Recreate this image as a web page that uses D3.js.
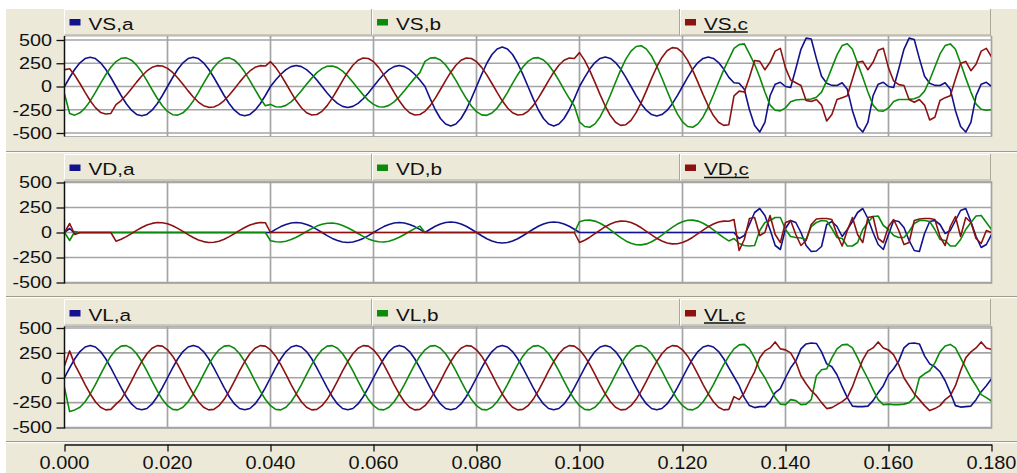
<!DOCTYPE html>
<html><head><meta charset="utf-8">
<script src="https://cdn.jsdelivr.net/npm/d3@7"></script>
<style>
html,body{margin:0;padding:0;background:#fff;}
svg{display:block;}
text{font-family:"Liberation Sans",Arial,sans-serif;fill:#111;}
</style>
</head><body>
<svg id="c" width="1017" height="473"></svg>
<script>
// ---------------- data ----------------
const timeStep = 0.001;           // sample spacing (s)
const xTickValues = [0,0.02,0.04,0.06,0.08,0.10,0.12,0.14,0.16,0.18];
const yTickValues = [500,250,0,-250,-500];
const yTickLabels = ["500","250","0","-250","-500"];
const namesVS = ["VS,a","VS,b","VS,c"];
const namesVD = ["VD,a","VD,b","VD,c"];
const namesVL = ["VL,a","VL,b","VL,c"];

const VS_a = [
0,97,185,255,300,315,300,255,185,97,0,-97,-185,-255,-300,-315,-300,-255,-185,-97,
0,97,185,255,300,315,300,255,185,97,0,-97,-185,-255,-300,-315,-300,-255,-185,-97,
0,70,132,182,214,225,214,182,132,70,0,-70,-132,-182,-214,-225,-214,-182,-132,-70,
0,70,132,182,214,225,214,182,132,70,0,-131,-250,-344,-404,-425,-404,-344,-250,-131,
0,131,250,344,404,425,404,344,250,131,0,-131,-250,-344,-404,-425,-404,-344,-250,-131,
0,98,187,257,302,318,302,257,187,98,0,-98,-187,-257,-302,-318,-302,-257,-187,-98,
0,98,187,257,302,318,302,257,187,98,40,35,-30,-250,-420,-490,-385,-100,25,45,
0,-10,190,400,520,510,300,110,35,12,10,40,-30,-260,-430,-490,-385,-100,25,45,
0,-10,190,400,520,505,300,110,35,12,10,40,-30,-260,-430,-490,-385,-100,25,45,
0];
const VS_b = [
-80,-290,-308,-283,-230,-155,-64,33,126,207,268,303,308,283,230,155,64,-33,-126,-207,
-268,-303,-308,-283,-230,-155,-64,33,126,207,268,303,308,283,230,155,64,-33,-126,-207,
-192,-217,-221,-203,-165,-111,-46,23,90,149,192,217,221,203,165,111,46,-23,-90,-149,
-192,-217,-221,-203,-165,-111,-46,23,90,149,270,305,310,285,232,156,65,-33,-127,-209,
-270,-305,-310,-285,-232,-156,-65,33,127,209,270,305,310,285,232,156,65,-33,-127,-209,
-381,-430,-438,-402,-327,-220,-92,46,179,294,381,430,438,402,327,220,92,-46,-179,-294,
-381,-430,-438,-402,-327,-220,-92,46,179,294,410,450,458,350,240,100,-60,-200,-255,-262,
-230,-165,-145,-140,-140,-135,-115,-60,60,200,340,440,460,400,250,100,-60,-200,-260,-265,
-230,-160,-140,-140,-138,-132,-110,-50,70,210,350,440,458,400,250,90,-60,-190,-245,-255,
-250];
const VS_c = [
180,190,120,32,-63,-153,-227,-279,-295,-290,-195,-151,-92,-24,47,113,167,206,224,220,
195,151,92,24,-47,-113,-167,-206,-224,-220,-195,-151,-92,-24,47,113,167,206,224,220,
267,206,125,32,-64,-154,-229,-282,-306,-301,-267,-206,-125,-32,64,154,229,282,306,301,
267,206,125,32,-64,-154,-229,-282,-306,-301,-267,-206,-125,-32,64,154,229,282,306,301,
267,206,125,32,-64,-154,-229,-282,-306,-301,-267,-206,-125,-32,64,154,229,282,306,301,
364,281,171,44,-87,-210,-312,-384,-418,-411,-364,-281,-171,-44,87,210,312,384,418,411,
364,281,171,44,-87,-210,-312,-384,-418,-411,-100,-50,-60,100,280,270,180,260,380,410,
200,70,40,10,-150,-160,-140,-200,-370,-300,-140,-120,-100,80,260,270,180,260,390,410,
200,60,20,10,-140,-170,-140,-200,-360,-330,-150,-120,-100,80,250,270,170,240,380,410,
320];

const VD_a = [
0,40,-10,0,0,0,0,0,0,0,0,0,0,0,0,0,0,0,0,0,
0,0,0,0,0,0,0,0,0,0,0,0,0,0,0,0,0,0,0,0,
0,31,59,81,95,100,95,81,59,31,0,-31,-59,-81,-95,-100,-95,-81,-59,-31,
0,31,59,81,95,100,95,81,59,31,0,32,62,85,100,105,100,85,62,32,
0,-32,-62,-85,-100,-105,-100,-85,-62,-32,0,32,62,85,100,105,100,85,62,32,
0,0,0,0,0,0,0,0,0,0,0,0,0,0,0,0,0,0,0,0,
0,0,0,0,0,0,0,0,0,0,0,-60,-30,80,200,240,170,30,-130,-170,
40,120,100,0,-130,-190,-185,-140,80,110,60,-40,30,110,200,240,140,0,-120,-170,
-20,120,110,50,-80,-180,-190,-10,110,120,80,-10,20,120,220,240,110,-40,-150,-120,
-20];
const VD_b = [
0,-80,10,0,0,0,0,0,0,0,0,0,0,0,0,0,0,0,0,0,
0,0,0,0,0,0,0,0,0,0,0,0,0,0,0,0,0,0,0,0,
-82,-93,-95,-87,-71,-48,-20,10,39,64,82,93,95,87,71,48,20,-10,-39,-64,
-82,-93,-95,-87,-71,-48,-20,10,39,64,0,0,0,0,0,0,0,0,0,0,
0,0,0,0,0,0,0,0,0,0,0,0,0,0,0,0,0,0,0,0,
108,122,124,114,93,63,26,-13,-51,-84,-108,-122,-124,-114,-93,-63,-26,13,51,84,
108,122,124,114,93,63,26,-13,-51,-84,-60,-110,-130,-135,-130,20,100,120,150,150,
30,-40,-50,-55,-70,60,100,120,115,40,-50,-60,-135,-135,-100,30,100,160,165,70,
30,-30,-50,-50,10,90,120,120,110,30,-70,-80,-135,-135,-70,30,100,165,170,100,
30];
const VD_c = [
0,90,-20,0,0,0,0,0,0,0,-87,-67,-41,-11,21,50,74,91,100,98,
87,67,41,11,-21,-50,-74,-91,-100,-98,-87,-67,-41,-11,21,50,74,91,100,98,
0,0,0,0,0,0,0,0,0,0,0,0,0,0,0,0,0,0,0,0,
0,0,0,0,0,0,0,0,0,0,0,0,0,0,0,0,0,0,0,0,
0,0,0,0,0,0,0,0,0,0,0,0,0,0,0,0,0,0,0,0,
-100,-77,-47,-12,24,58,85,105,114,112,100,77,47,12,-24,-58,-85,-105,-114,-112,
-100,-77,-47,-12,24,58,85,105,114,112,130,-180,-70,140,150,-30,0,170,-20,-100,
100,120,-20,-130,-80,80,135,140,140,130,-20,-135,20,150,-20,-100,150,160,-60,-100,
60,130,20,-120,-100,120,135,140,140,130,-40,-130,60,160,-40,150,100,-60,-110,20,
0];

const VL_a = [
0,100,191,263,309,325,309,263,191,100,0,-100,-191,-263,-309,-322,-309,-263,-191,-100,
0,100,191,263,309,325,309,263,191,100,0,-100,-191,-263,-309,-322,-309,-263,-191,-100,
0,100,191,263,309,325,309,263,191,100,0,-100,-191,-263,-309,-322,-309,-263,-191,-100,
0,100,191,263,309,325,309,263,191,100,0,-100,-191,-263,-309,-322,-309,-263,-191,-100,
0,100,191,263,309,325,309,263,191,100,0,-100,-191,-263,-309,-322,-309,-263,-191,-100,
0,100,191,263,309,325,309,263,191,100,0,-100,-191,-263,-309,-322,-309,-263,-191,-100,
0,100,191,263,309,325,309,263,191,100,10,-80,-200,-280,-300,-290,-290,-240,-150,-110,
0,100,170,290,340,350,345,260,140,110,30,-90,-200,-285,-290,-290,-285,-230,-150,-80,
30,90,170,300,345,350,340,220,140,110,60,-30,-150,-280,-295,-290,-285,-220,-140,-80,
-10];
const VL_b = [
-100,-340,-323,-297,-241,-163,-68,34,132,217,281,318,323,297,241,163,68,-34,-132,-217,
-281,-318,-323,-297,-241,-163,-68,34,132,217,281,318,323,297,241,163,68,-34,-132,-217,
-281,-318,-323,-297,-241,-163,-68,34,132,217,281,318,323,297,241,163,68,-34,-132,-217,
-281,-318,-323,-297,-241,-163,-68,34,132,217,281,318,323,297,241,163,68,-34,-132,-217,
-281,-318,-323,-297,-241,-163,-68,34,132,217,281,318,323,297,241,163,68,-34,-132,-217,
-281,-318,-323,-297,-241,-163,-68,34,132,217,281,318,323,297,241,163,68,-34,-132,-217,
-281,-318,-323,-297,-241,-163,-68,34,132,217,290,330,335,290,200,80,0,-100,-200,-265,
-270,-220,-230,-270,-265,-220,20,80,90,200,290,330,335,300,200,90,-10,-120,-220,-270,
-265,-270,-270,-265,-250,-200,0,40,70,150,260,320,335,300,200,100,0,-80,-170,-200,
-235];
const VL_c = [
120,270,132,34,-68,-163,-241,-297,-323,-318,-265,-217,-132,-34,68,163,241,297,323,318,
281,217,132,34,-68,-163,-241,-297,-323,-318,-281,-217,-132,-34,68,163,241,297,323,318,
281,217,132,34,-68,-163,-241,-297,-323,-318,-281,-217,-132,-34,68,163,241,297,323,318,
281,217,132,34,-68,-163,-241,-297,-323,-318,-281,-217,-132,-34,68,163,241,297,323,318,
281,217,132,34,-68,-163,-241,-297,-323,-318,-281,-217,-132,-34,68,163,241,297,323,318,
281,217,132,34,-68,-163,-241,-297,-323,-318,-281,-217,-132,-34,68,163,241,297,323,318,
281,217,132,34,-68,-163,-241,-297,-323,-318,-190,-220,-150,-40,60,200,270,300,360,290,
280,250,160,20,-60,-130,-180,-250,-310,-300,-270,-240,-200,-90,50,180,270,300,360,300,
280,230,130,0,-80,-160,-220,-280,-330,-310,-280,-220,-180,-80,70,200,260,300,360,300,
285];

// ---------------- drawing ----------------
const W = 1017, H = 473;
const BEIGE = "#ECE9D8";
const GRID = "#a4a4a4";
const COLORS = ["#12128c", "#0b8a0b", "#8c1212"];

const svg = d3.select("#c");
svg.append("rect").attr("width", W).attr("height", H).attr("fill", "#fff");
svg.append("rect").attr("x", 6).attr("y", 9).attr("width", W - 6).attr("height", H - 9).attr("fill", BEIGE);

const x = d3.scaleLinear().domain([0, 0.18]).range([64.5, 991.5]);

function stext(g, px, py, str, size, sx, anchor) {
  return g.append("text")
    .attr("transform", `translate(${px},${py}) scale(${sx},1)`)
    .attr("text-anchor", anchor)
    .style("font-size", size + "px")
    .text(str);
}

const panels = [
  {names: namesVS, data: [VS_a, VS_b, VS_c], lt: 9,   lb: 35.5,  pt: 36,    pb: 136.5, y500: 40,    ym500: 133,   base: 29.5},
  {names: namesVD, data: [VD_a, VD_b, VD_c], lt: 154, lb: 180.5, pt: 181.5, pb: 283.5, y500: 182.5, ym500: 282.5, base: 175},
  {names: namesVL, data: [VL_a, VL_b, VL_c], lt: 299, lb: 325.5, pt: 326.5, pb: 428.5, y500: 328,   ym500: 427.5, base: 320.5}
];

// panel separators
[151.5, 296.5, 441.5].forEach(yy => {
  svg.append("line").attr("x1", 6).attr("x2", W).attr("y1", yy).attr("y2", yy).attr("stroke", "#a09c8c").attr("stroke-width", 1.2);
  svg.append("line").attr("x1", 6).attr("x2", W).attr("y1", yy + 1.2).attr("y2", yy + 1.2).attr("stroke", "#fff").attr("stroke-width", 1);
});

panels.forEach((p, pi) => {
  const g = svg.append("g");
  const y = d3.scaleLinear().domain([-500, 500]).range([p.ym500, p.y500]);

  // legend box
  const L0 = 64.5, L1 = 990.5;
  g.append("rect").attr("x", L0).attr("y", p.lt).attr("width", L1 - L0).attr("height", p.lb - p.lt).attr("fill", BEIGE);
  g.append("line").attr("x1", L0).attr("x2", L1).attr("y1", p.lt + 0.5).attr("y2", p.lt + 0.5).attr("stroke", "#fff");
  g.append("line").attr("x1", L0).attr("x2", L0).attr("y1", p.lt).attr("y2", p.lb).attr("stroke", "#fff");
  g.append("line").attr("x1", L0).attr("x2", L1).attr("y1", p.lb - 0.5).attr("y2", p.lb - 0.5).attr("stroke", "#aca899");
  g.append("line").attr("x1", L1).attr("x2", L1).attr("y1", p.lt).attr("y2", p.lb).attr("stroke", "#aca899");
  const itemX = [64.5, 372, 680];
  [372, 680].forEach(sx => {
    g.append("line").attr("x1", sx - 0.5).attr("x2", sx - 0.5).attr("y1", p.lt).attr("y2", p.lb).attr("stroke", "#aca899");
    g.append("line").attr("x1", sx + 0.5).attr("x2", sx + 0.5).attr("y1", p.lt).attr("y2", p.lb).attr("stroke", "#fff");
  });
  p.names.forEach((nm, i) => {
    const ix = itemX[i];
    g.append("rect").attr("x", ix + 5).attr("y", p.base - 10.5).attr("width", 11).attr("height", 6.5).attr("fill", COLORS[i]);
    const t = stext(g, ix + 24, p.base, nm, 17, 1.22, "start");
    if (i === 2) {
      const w = t.node().getComputedTextLength() * 1.22;
      g.append("line").attr("x1", ix + 24).attr("x2", ix + 24 + w).attr("y1", p.base + 2.5).attr("y2", p.base + 2.5)
        .attr("stroke", "#111").attr("stroke-width", 1.3);
    }
  });

  // plot area
  g.append("rect").attr("x", 64.5).attr("y", p.pt).attr("width", 991.5 - 64.5).attr("height", p.pb - p.pt)
    .attr("fill", "#fff").attr("stroke", "#b0b0b0");

  // grid
  g.selectAll(".hg").data(yTickValues).enter().append("line")
    .attr("x1", 64.5).attr("x2", 991.5).attr("y1", d => y(d)).attr("y2", d => y(d))
    .attr("stroke", GRID).attr("stroke-width", 1.7);
  g.selectAll(".vg").data(xTickValues.slice(1)).enter().append("line")
    .attr("x1", d => x(d)).attr("x2", d => x(d)).attr("y1", p.pt).attr("y2", p.pb)
    .attr("stroke", GRID).attr("stroke-width", 1.7);

  // series
  const clipId = "clip" + pi;
  svg.append("clipPath").attr("id", clipId).append("rect")
    .attr("x", 65).attr("y", p.pt + 0.5).attr("width", 926).attr("height", p.pb - p.pt - 1);
  const line = d3.line().x((d, i) => x(i * timeStep)).y(d => y(d));
  const lg = g.append("g").attr("clip-path", `url(#${clipId})`);
  p.data.forEach((arr, i) => {
    lg.append("path").datum(arr).attr("d", line).attr("fill", "none")
      .attr("stroke", COLORS[i]).attr("stroke-width", 1.6).attr("stroke-linejoin", "round");
  });

  // left axis
  g.append("line").attr("x1", 64.5).attr("x2", 64.5).attr("y1", p.pt).attr("y2", p.pb).attr("stroke", "#111").attr("stroke-width", 1.5);
  const ax = g.append("g").attr("transform", "translate(64.5,0)")
    .call(d3.axisLeft(y).tickValues(yTickValues).tickSize(8).tickSizeOuter(0).tickFormat(""));
  ax.select(".domain").remove();
  ax.selectAll(".tick line").attr("stroke", "#111").attr("stroke-width", 1.3);
  yTickValues.forEach((v, k) => {
    stext(g, 52, y(v) + 5.8, yTickLabels[k], 16.5, 1.2, "end");
  });
});

// bottom time axis
const xa = svg.append("g").attr("transform", "translate(0,444.5)")
  .call(d3.axisBottom(x).tickValues(xTickValues).tickSize(7).tickSizeOuter(0).tickFormat(""));
xa.select(".domain").attr("stroke", "#111").attr("stroke-width", 1.5);
xa.selectAll(".tick line").attr("stroke", "#111").attr("stroke-width", 1.3);
xTickValues.forEach(v => {
  stext(svg, x(v), 469, d3.format(".3f")(v), 17.5, 1.14, "middle");
});
</script>
</body></html>
